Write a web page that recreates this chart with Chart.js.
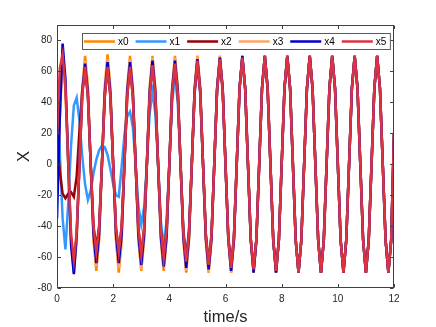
<!DOCTYPE html>
<html><head><meta charset="utf-8">
<script src="https://cdn.jsdelivr.net/npm/chart.js@4/dist/chart.umd.min.js"></script>
<style>html,body{margin:0;padding:0;background:#fff;}canvas{display:block;}</style>
</head><body>
<canvas id="c" width="436" height="327" style="width:436px;height:327px"></canvas>
<script>
const time = [0,0.1,0.2,0.3,0.4,0.5,0.6,0.7,0.8,0.9,1,1.1,1.2,1.3,1.4,1.5,1.6,1.7,1.8,1.9,2,2.1,2.2,2.3,2.4,2.5,2.6,2.7,2.8,2.9,3,3.1,3.2,3.3,3.4,3.5,3.6,3.7,3.8,3.9,4,4.1,4.2,4.3,4.4,4.5,4.6,4.7,4.8,4.9,5,5.1,5.2,5.3,5.4,5.5,5.6,5.7,5.8,5.9,6,6.1,6.2,6.3,6.4,6.5,6.6,6.7,6.8,6.9,7,7.1,7.2,7.3,7.4,7.5,7.6,7.7,7.8,7.9,8,8.1,8.2,8.3,8.4,8.5,8.6,8.7,8.8,8.9,9,9.1,9.2,9.3,9.4,9.5,9.6,9.7,9.8,9.9,10,10.1,10.2,10.3,10.4,10.5,10.6,10.7,10.8,10.9,11,11.1,11.2,11.3,11.4,11.5,11.6,11.7,11.8,11.9,12];

const x0 = [0,49,70,49,0,-49,-70,-49, 0,49,70,50,0,-49,-69,-49, 0,50,71,49,0,-49,-70,-50, 0,49,70,49,0,-49,-69,-49, 0,50,70,49,0,-49,-69,-49,
  0,49,70,49,0,-49,-70,-49, 0,49,70,49,0,-49,-70,-49, 0,49,70,49,0,-49,-70,-49, 0,49,70,49,0,-49,-70,-49, 0,49,70,49,0,-49,-70,-49,
  0,49,70,49,0,-49,-70,-49, 0,49,70,49,0,-49,-70,-49, 0,49,70,49,0,-49,-70,-49, 0,49,70,49,0,-49,-70,-49, 0,49,70,49,0,-49,-70,-49, 20];

const x1 = [50,8,-35,-55,-25,12,38,43, 28,5,-13,-23,-17,-6,3,9, 12,11,6,-3,-13,-20,-21,-2, 19,31,34,24,0,-27,-39,-28, 0,33,47,33,0,-37,-53,-37,
  0,40,57,40,0,-42,-60,-42, 0,45,64,45,0,-46,-66,-47, 0,47,67,47,0,-48,-68,-48, 0,49,69,49,0,-49,-69,-49, 0,49,70,49,0,-49,-70,-49,
  0,49,70,49,0,-49,-70,-49, 0,49,70,49,0,-49,-70,-49, 0,49,70,49,0,-49,-70,-49, 0,49,70,49,0,-49,-70,-49, 0,49,70,49,0,-49,-70,-49, 20];

const x2 = [18,-5,-19,-22,-19,-18,-21,-8, 22,48,61,44,0,-40,-54,-40, 0,43,62,44,0,-41,-56,-41, 0,44,63,44,0,-42,-58,-42, 0,45,64,45,0,-43,-60,-43,
  0,46,65,46,0,-44,-62,-44, 0,47,66,47,0,-45,-64,-46, 0,48,68,48,0,-47,-66,-47, 0,49,69,49,0,-48,-68,-48, 0,49,70,49,0,-49,-69,-49,
  0,49,70,49,0,-49,-70,-49, 0,49,70,49,0,-49,-70,-49, 0,49,70,49,0,-49,-70,-49, 0,49,70,49,0,-49,-70,-49, 0,49,70,49,0,-49,-70,-49, 20];

const x3 = [-15,30,66,48,0,-47,-65,-46, 0,47,67,48,0,-47,-66,-47, 0,48,68,48,0,-48,-67,-48, 0,48,68,48,0,-48,-68,-48, 0,49,69,49,0,-48,-68,-48,
  0,49,69,49,0,-49,-69,-49, 0,49,70,49,0,-49,-70,-49, 0,49,70,49,0,-49,-70,-49, 0,49,70,49,0,-49,-70,-49, 0,49,70,49,0,-49,-70,-49,
  0,49,70,49,0,-49,-70,-49, 0,49,70,49,0,-49,-70,-49, 0,49,70,49,0,-49,-70,-49, 0,49,70,49,0,-49,-70,-49, 0,49,70,49,0,-49,-70,-49, 20];

const x4 = [-35,30,78,55,2,-52,-71,-46, 0,46,65,46,0,-45,-64,-45, 0,46,66,46,0,-45,-64,-46, 0,47,66,47,0,-46,-65,-46, 0,47,67,47,0,-47,-66,-47,
  0,48,67,48,0,-47,-67,-47, 0,48,68,48,0,-48,-68,-48, 0,49,69,49,0,-48,-69,-49, 0,49,70,49,0,-49,-70,-49, 0,49,70,49,0,-49,-70,-49,
  0,49,70,49,0,-49,-70,-49, 0,49,70,49,0,-49,-70,-49, 0,49,70,49,0,-49,-70,-49, 0,49,70,49,0,-49,-70,-49, 0,49,70,49,0,-49,-70,-49, 20];

const x5 = [20,62,71,50,2,-45,-62,-44, 0,44,63,44,0,-41,-57,-41, 0,44,63,44,0,-41,-57,-41, 0,44,63,44,0,-42,-59,-42, 0,45,64,45,0,-43,-61,-43,
  0,46,65,46,0,-44,-63,-45, 0,47,67,47,0,-46,-65,-46, 0,48,68,48,0,-47,-67,-47, 0,49,69,49,0,-48,-68,-48, 0,49,70,49,0,-49,-69,-49,
  0,49,70,49,0,-49,-70,-49, 0,49,70,49,0,-49,-70,-49, 0,49,70,49,0,-49,-70,-49, 0,49,70,49,0,-49,-70,-49, 0,49,70,49,0,-49,-70,-49, 20];

const seriesNames = ['x0','x1','x2','x3','x4','x5'];
const seriesValues = [x0, x1, x2, x3, x4, x5];
const xTicks = [0,2,4,6,8,10,12];
const yTicks = [-80,-60,-40,-20,0,20,40,60,80];

const palette = ['#FF8800','#3399FF','#990000','#FFA366','#0000CC','#DD3340'];
const FONT = '"Liberation Sans", Arial, Helvetica, sans-serif';
const AX = '#262626';

const datasets = seriesNames.map((name, k) => ({
  label: name,
  data: time.map((t, i) => ({x: t, y: seriesValues[k][i]})),
  borderColor: palette[k],
  backgroundColor: palette[k],
  borderWidth: 2.5,
  pointRadius: 0,
  tension: 0,
  order: seriesNames.length - k
}));

const matlabAxes = {
  id: 'matlabAxes',
  afterDraw(chart) {
    const {ctx, chartArea: a, scales} = chart;
    ctx.save();
    ctx.strokeStyle = '#404040';
    ctx.lineWidth = 1;
    const L = Math.round(a.left) + 0.5, R = Math.round(a.right) - 0.5;
    const T = Math.round(a.top) + 0.5, B = Math.round(a.bottom) - 0.5;
    ctx.strokeRect(L, T, R - L, B - T);
    const tl = 3.5;
    ctx.beginPath();
    scales.x.ticks.forEach(tk => {
      const p = Math.round(scales.x.getPixelForValue(tk.value)) + 0.5;
      ctx.moveTo(p, B); ctx.lineTo(p, B - tl);
      ctx.moveTo(p, T); ctx.lineTo(p, T + tl);
    });
    scales.y.ticks.forEach(tk => {
      const p = Math.round(scales.y.getPixelForValue(tk.value)) + 0.5;
      ctx.moveTo(L, p); ctx.lineTo(L + tl, p);
      ctx.moveTo(R, p); ctx.lineTo(R - tl, p);
    });
    ctx.stroke();

    // legend (MATLAB style, horizontal, inside top)
    ctx.font = '10px ' + FONT;
    const lineLen = 31, gapLT = 3, gapItem = 7, padL = 1.5, padR = 4;
    const items = chart.data.datasets.map(d => ({label: d.label, color: d.borderColor, w: ctx.measureText(d.label).width}));
    let total = padL + padR;
    items.forEach((it, i) => { total += lineLen + gapLT + it.w + (i < items.length - 1 ? gapItem : 0); });
    const bx = Math.round(a.left + 25) + 0.5, by = Math.round(a.top + 8) + 0.5, bh = 16;
    ctx.fillStyle = '#ffffff';
    ctx.fillRect(bx, by, total, bh);
    ctx.strokeStyle = '#5a5a5a';
    ctx.strokeRect(bx, by, total, bh);
    let x = bx + padL;
    const cy = by + bh / 2;
    items.forEach(it => {
      ctx.strokeStyle = it.color;
      ctx.lineWidth = 2.5;
      ctx.beginPath(); ctx.moveTo(x, cy); ctx.lineTo(x + lineLen, cy); ctx.stroke();
      x += lineLen + gapLT;
      ctx.fillStyle = '#000000';
      ctx.textBaseline = 'middle';
      ctx.textAlign = 'left';
      ctx.fillText(it.label, x, cy + 0.5);
      x += it.w + gapItem;
    });
    ctx.restore();
  }
};

new Chart(document.getElementById('c'), {
  type: 'line',
  data: {datasets},
  options: {
    responsive: false,
    devicePixelRatio: 1,
    animation: false,
    events: [],
    layout: {padding: {left: 15, right: 42, top: 25, bottom: 0}},
    plugins: {legend: {display: false}, tooltip: {enabled: false}},
    scales: {
      x: {
        type: 'linear', min: 0, max: 12,
        afterBuildTicks: s => { s.ticks = xTicks.map(v => ({value: v})); },
        afterFit: s => { s.height = 39; },
        grid: {display: false, drawTicks: false},
        border: {display: false},
        ticks: {color: AX, font: {family: FONT, size: 10}, padding: 5, maxRotation: 0, autoSkip: false},
        title: {display: true, text: 'time/s', color: AX, font: {family: FONT, size: 16.5}, padding: 0}
      },
      y: {
        type: 'linear', min: -80, max: 90,
        afterBuildTicks: s => { s.ticks = yTicks.map(v => ({value: v})); },
        afterFit: s => { s.width = 42; },
        grid: {display: false, drawTicks: false},
        border: {display: false},
        ticks: {color: AX, font: {family: FONT, size: 10}, padding: 5, autoSkip: false},
        title: {display: true, text: 'X', color: AX, font: {family: FONT, size: 16.5}, padding: 0}
      }
    }
  },
  plugins: [matlabAxes]
});
</script>
</body></html>
